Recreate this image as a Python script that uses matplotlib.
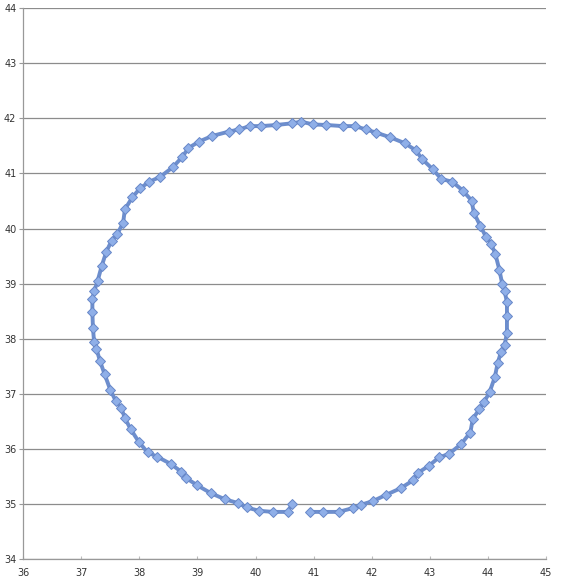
import matplotlib
matplotlib.use("Agg")
import matplotlib.pyplot as plt

x_vals = [40.94, 41.17, 41.43, 41.68, 41.82, 42.03, 42.25, 42.50, 42.71, 42.80, 42.99, 43.16,
          43.33, 43.54, 43.70, 43.74, 43.85, 43.94, 44.03, 44.12, 44.17, 44.23, 44.29, 44.33,
          44.33, 44.33, 44.29, 44.25, 44.20, 44.13, 44.06, 43.97, 43.87, 43.76, 43.72, 43.57,
          43.39, 43.20, 43.05, 42.87, 42.76, 42.57, 42.31, 42.08, 41.90, 41.71, 41.50, 41.22,
          40.99, 40.79, 40.62, 40.36, 40.10, 39.90, 39.72, 39.54, 39.25, 39.03, 38.84, 38.74,
          38.57, 38.36, 38.17, 38.01, 37.88, 37.75, 37.72, 37.62, 37.52, 37.43, 37.35, 37.28,
          37.22, 37.19, 37.19, 37.20, 37.22, 37.26, 37.32, 37.40, 37.50, 37.59, 37.69, 37.75,
          37.85, 37.99, 38.14, 38.31, 38.54, 38.72, 38.81, 39.00, 39.23, 39.47, 39.70, 39.85,
          40.06, 40.30, 40.56, 40.62]
y_vals = [34.86, 34.86, 34.86, 34.93, 34.99, 35.06, 35.17, 35.29, 35.43, 35.57, 35.70, 35.85,
          35.91, 36.09, 36.30, 36.54, 36.72, 36.86, 37.03, 37.30, 37.56, 37.77, 37.89, 38.11,
          38.42, 38.66, 38.87, 38.99, 39.25, 39.54, 39.72, 39.85, 40.05, 40.29, 40.51, 40.69,
          40.85, 40.90, 41.08, 41.26, 41.42, 41.55, 41.66, 41.74, 41.80, 41.86, 41.86, 41.88,
          41.89, 41.94, 41.91, 41.88, 41.86, 41.86, 41.80, 41.76, 41.68, 41.58, 41.46, 41.30,
          41.11, 40.94, 40.85, 40.73, 40.57, 40.35, 40.11, 39.90, 39.78, 39.58, 39.32, 39.05,
          38.86, 38.72, 38.48, 38.19, 37.94, 37.82, 37.60, 37.36, 37.07, 36.88, 36.74, 36.56,
          36.36, 36.13, 35.94, 35.86, 35.73, 35.59, 35.47, 35.34, 35.20, 35.09, 35.02, 34.94,
          34.88, 34.86, 34.86, 35.00]

x_ticks = [36, 37, 38, 39, 40, 41, 42, 43, 44, 45]
y_ticks = [34, 35, 36, 37, 38, 39, 40, 41, 42, 43, 44]

fig = plt.figure(figsize=(5.68, 5.82), dpi=100)
ax = fig.add_axes([0.041, 0.039, 0.920, 0.947])

ax.plot(x_vals, y_vals, color="#6d8ecd", linewidth=2.8, marker="D", markersize=5.2,
        markerfacecolor="#8fafe8", markeredgecolor="#6787c8", markeredgewidth=0.7,
        zorder=3)

ax.set_xlim(36, 45)
ax.set_ylim(34, 44)
ax.set_xticks(x_ticks)
ax.set_yticks(y_ticks)
ax.set_xticklabels([str(t) for t in x_ticks])
ax.set_yticklabels([str(t) for t in y_ticks])

ax.yaxis.grid(True, color="#8c8c8c", linewidth=0.9)
ax.set_axisbelow(True)
for s in ["top", "right"]:
    ax.spines[s].set_visible(False)
for s in ["left", "bottom"]:
    ax.spines[s].set_color("#999999")
    ax.spines[s].set_linewidth(0.9)

ax.tick_params(axis="y", direction="out", length=3, color="#999999", labelsize=7,
               labelcolor="#333333", pad=2)
ax.tick_params(axis="x", direction="in", length=2, color="#bbbbbb", labelsize=7,
               labelcolor="#333333", pad=6)

fig.savefig("out.png", dpi=100, facecolor="white")
